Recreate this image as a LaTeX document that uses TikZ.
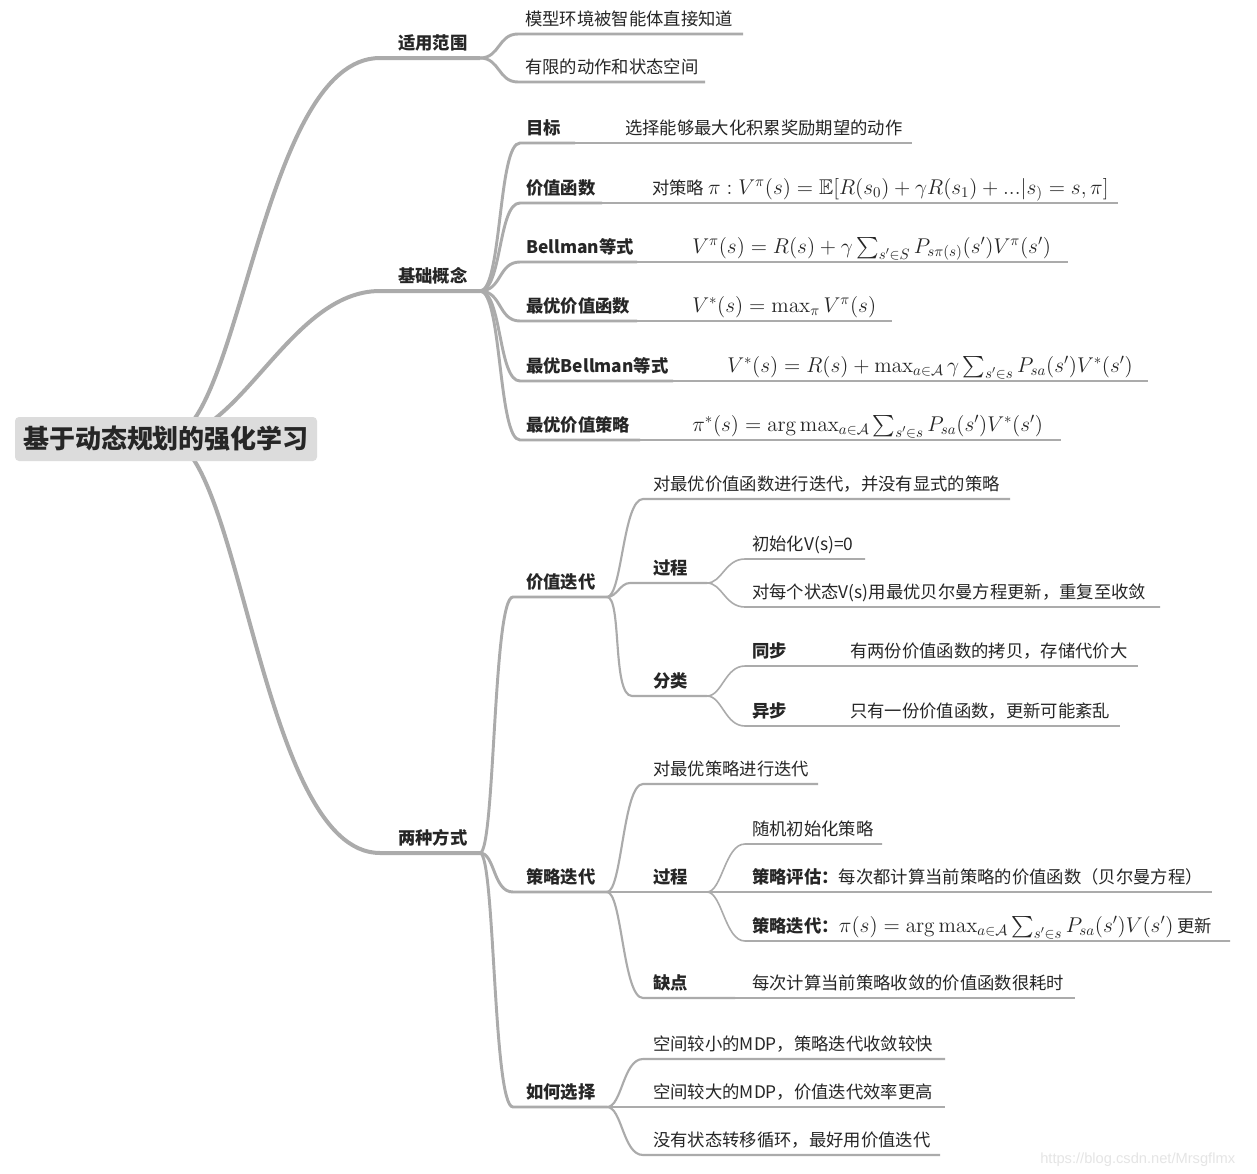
\RequirePackage{fix-cm}
\documentclass[tikz,border=0pt]{standalone}
\usepackage{amsmath,amssymb}
\usepackage[no-math]{fontspec}
\setmainfont{Noto Sans CJK SC}
\newfontfamily\markfont{Liberation Sans}
\usetikzlibrary{backgrounds}

\definecolor{ln}{HTML}{ABABAB}
\definecolor{txt}{HTML}{262626}
\definecolor{rootgray}{HTML}{DCDCDC}

% math a little larger than the text around it
\newcommand{\fml}[1]{{\fontsize{16}{18}\selectfont$#1$}}

\tikzset{
  rootbox/.style={fill=rootgray, rounded corners=3pt, minimum width=226.5pt, minimum height=33pt,
    font=\fontsize{19.5}{22}\selectfont\bfseries},
  topic/.style={anchor=base west, font=\fontsize{13}{15}\selectfont\bfseries},
  leaf/.style={anchor=base west, font=\fontsize{13}{15}\selectfont},
  br0/.style={draw=ln, line width=3pt},
  br1/.style={draw=ln, line width=2.2pt},
  br2/.style={draw=ln, line width=1.6pt},
  br3/.style={draw=ln, line width=1.2pt},
}

\begin{document}
\begin{tikzpicture}[x=0.75pt, y=-0.75pt, every node/.style={inner sep=0pt, text=txt}]
  \begin{scope}[on background layer]
    \fill[white] (0,0) rectangle (1257,1174);
  \end{scope}
  \useasboundingbox (0,0) rectangle (1257,1174);

  % root
  \node[rootbox] (root) at (166,439) {基于动态规划的强化学习};

  % first level
  \node[topic] (scope) at (398,49) {适用范围};
  \node[topic] (basic) at (398,282) {基础概念};
  \node[topic] (ways) at (398,844) {两种方式};
  \coordinate (scope-a) at (380,58);  \coordinate (scope-b) at (480,58);
  \coordinate (basic-a) at (380,291); \coordinate (basic-b) at (480,291);
  \coordinate (ways-a) at (380,853);  \coordinate (ways-b) at (480,853);

  \begin{scope}[on background layer]
    \draw[br0] (root.center) .. controls +(75,0) and +(-120,0) .. (scope-a) -- (scope-b);
    \draw[br0] (root.center) .. controls +(75,0) and +(-90,0) .. (basic-a) -- (basic-b);
    \draw[br0] (root.center) .. controls +(75,0) and +(-120,0) .. (ways-a) -- (ways-b);
  \end{scope}

  % scope
  \node[leaf] (known) at (525,25) {模型环境被智能体直接知道};
  \node[leaf] (finite) at (525,73) {有限的动作和状态空间};
  \coordinate (known-a) at (518,34);  \coordinate (known-b) at (743,34);
  \coordinate (finite-a) at (518,82); \coordinate (finite-b) at (705,82);
  \draw[br1] (scope-b) .. controls +(20,0) and +(-20,0) .. (known-a) -- (known-b);
  \draw[br1] (scope-b) .. controls +(20,0) and +(-20,0) .. (finite-a) -- (finite-b);

  % basic concepts
  \node[topic] (goal) at (526,134) {目标};
  \node[leaf] (goal-t) at (625,134) {选择能够最大化积累奖励期望的动作};
  \node[topic] (vfun) at (526,194) {价值函数};
  \node[leaf] (vfun-t) at (652,194)
    {对策略 \fml{\pi:V^\pi(s)=\mathbb{E}[R(s_0)+\gamma R(s_1)+...|s_{)}=s,\pi]}};
  \node[topic] (bell) at (526,253) {Bellman等式};
  \node[leaf] (bell-t) at (692,253)
    {\fml{V^\pi(s)=R(s)+\gamma\sum_{s'\in S}P_{s\pi(s)}(s')V^\pi(s')}};
  \node[topic] (opt) at (526,312) {最优价值函数};
  \node[leaf] (opt-t) at (692,312) {\fml{V^*(s)=\max_\pi V^\pi(s)}};
  \node[topic] (obell) at (526,372) {最优Bellman等式};
  \node[leaf] (obell-t) at (727,372)
    {\fml{V^*(s)=R(s)+\max_{a\in\mathcal{A}}\gamma\sum_{s'\in s}P_{sa}(s')V^*(s')}};
  \node[topic] (opol) at (526,431) {最优价值策略};
  \node[leaf] (opol-t) at (692,431)
    {\fml{\pi^*(s)=\arg\max_{a\in\mathcal{A}}\sum_{s'\in s}P_{sa}(s')V^*(s')}};

  \coordinate (goal-a) at (520,143);  \coordinate (goal-m) at (575,143);  \coordinate (goal-b) at (912,143);
  \coordinate (vfun-a) at (520,203);  \coordinate (vfun-m) at (602,203);  \coordinate (vfun-b) at (1118,203);
  \coordinate (bell-a) at (520,262);  \coordinate (bell-m) at (637,262);  \coordinate (bell-b) at (1068,262);
  \coordinate (opt-a) at (520,321);   \coordinate (opt-m) at (637,321);   \coordinate (opt-b) at (892,321);
  \coordinate (obell-a) at (520,381); \coordinate (obell-m) at (673,381); \coordinate (obell-b) at (1148,381);
  \coordinate (opol-a) at (520,440);  \coordinate (opol-m) at (640,440);  \coordinate (opol-b) at (1061,440);

  \foreach \n in {goal,vfun,bell,opt,obell,opol}{
    \draw[br1] (basic-b) .. controls +(22,0) and +(-22,0) .. (\n-a) -- (\n-m);
    \draw[br2] (\n-m) -- (\n-b);
  }

  % two ways
  \node[topic] (vi) at (526,588) {价值迭代};
  \node[topic] (pi) at (526,883) {策略迭代};
  \node[topic] (how) at (526,1098) {如何选择};
  \coordinate (vi-a) at (513,597);   \coordinate (vi-b) at (607,597);
  \coordinate (pi-a) at (513,892);   \coordinate (pi-b) at (607,892);
  \coordinate (how-a) at (513,1107); \coordinate (how-b) at (607,1107);
  \draw[br1] (ways-b) .. controls +(15,0) and +(-20,0) .. (vi-a) -- (vi-b);
  \draw[br1] (ways-b) .. controls +(15,0) and +(-20,0) .. (pi-a) -- (pi-b);
  \draw[br1] (ways-b) .. controls +(15,0) and +(-20,0) .. (how-a) -- (how-b);

  % value iteration
  \node[leaf] (vi-def) at (653,490) {对最优价值函数进行迭代，并没有显式的策略};
  \node[topic] (vi-proc) at (653,574) {过程};
  \node[leaf] (vi-init) at (752,550) {初始化V(s)=0};
  \node[leaf] (vi-upd) at (752,598) {对每个状态V(s)用最优贝尔曼方程更新，重复至收敛};
  \node[topic] (vi-kind) at (653,687) {分类};
  \node[topic] (sync) at (752,657) {同步};
  \node[leaf] (sync-t) at (850,657) {有两份价值函数的拷贝，存储代价大};
  \node[topic] (async) at (752,717) {异步};
  \node[leaf] (async-t) at (850,717) {只有一份价值函数，更新可能紊乱};

  \coordinate (vi-def-a) at (643,499);  \coordinate (vi-def-b) at (1010,499);
  \coordinate (vi-proc-a) at (630,583); \coordinate (vi-proc-b) at (707,583);
  \coordinate (vi-init-a) at (745,559); \coordinate (vi-init-b) at (865,559);
  \coordinate (vi-upd-a) at (745,607);  \coordinate (vi-upd-b) at (1160,607);
  \coordinate (vi-kind-a) at (632,696); \coordinate (vi-kind-b) at (707,696);
  \coordinate (sync-a) at (745,666);  \coordinate (sync-m) at (800,666);  \coordinate (sync-b) at (1138,666);
  \coordinate (async-a) at (745,726); \coordinate (async-m) at (800,726); \coordinate (async-b) at (1120,726);

  \draw[br2] (vi-b) .. controls +(15,0) and +(-20,0) .. (vi-def-a) -- (vi-def-b);
  \draw[br2] (vi-b) .. controls +(10,0) and +(-10,0) .. (vi-proc-a) -- (vi-proc-b);
  \draw[br2] (vi-b) .. controls +(15,0) and +(-20,0) .. (vi-kind-a) -- (vi-kind-b);
  \draw[br3] (vi-proc-b) .. controls +(15,0) and +(-20,0) .. (vi-init-a) -- (vi-init-b);
  \draw[br3] (vi-proc-b) .. controls +(15,0) and +(-20,0) .. (vi-upd-a) -- (vi-upd-b);
  \draw[br3] (vi-kind-b) .. controls +(15,0) and +(-20,0) .. (sync-a) -- (sync-m);
  \draw[br3] (vi-kind-b) .. controls +(15,0) and +(-20,0) .. (async-a) -- (async-m);
  \draw[br3] (sync-m) -- (sync-b);
  \draw[br3] (async-m) -- (async-b);

  % policy iteration
  \node[leaf] (pi-def) at (653,775) {对最优策略进行迭代};
  \node[topic] (pi-proc) at (653,883) {过程};
  \node[leaf] (pi-rand) at (752,835) {随机初始化策略};
  \node[leaf] (pi-eval) at (752,883) {\textbf{策略评估：}每次都计算当前策略的价值函数（贝尔曼方程）};
  \node[leaf] (pi-impr) at (752,932)
    {\textbf{策略迭代：}\fml{\pi(s)=\arg\max_{a\in\mathcal{A}}\sum_{s'\in s}P_{sa}(s')V(s')} 更新};
  \node[topic] (pi-cons) at (653,989) {缺点};
  \node[leaf] (pi-cons-t) at (752,989) {每次计算当前策略收敛的价值函数很耗时};

  \coordinate (pi-def-a) at (643,784);  \coordinate (pi-def-b) at (818,784);
  \coordinate (pi-proc-a) at (625,892); \coordinate (pi-proc-b) at (707,892);
  \coordinate (pi-rand-a) at (745,844); \coordinate (pi-rand-b) at (882,844);
  \coordinate (pi-eval-a) at (725,892); \coordinate (pi-eval-b) at (1212,892);
  \coordinate (pi-impr-a) at (745,941); \coordinate (pi-impr-b) at (1230,941);
  \coordinate (pi-cons-a) at (643,998); \coordinate (pi-cons-m) at (735,998); \coordinate (pi-cons-b) at (1075,998);

  \draw[br2] (pi-b) .. controls +(15,0) and +(-20,0) .. (pi-def-a) -- (pi-def-b);
  \draw[br2] (pi-b) -- (pi-proc-a) -- (pi-proc-b);
  \draw[br2] (pi-b) .. controls +(15,0) and +(-20,0) .. (pi-cons-a) -- (pi-cons-m);
  \draw[br3] (pi-cons-m) -- (pi-cons-b);
  \draw[br3] (pi-proc-b) .. controls +(15,0) and +(-20,0) .. (pi-rand-a) -- (pi-rand-b);
  \draw[br3] (pi-proc-b) -- (pi-eval-a) -- (pi-eval-b);
  \draw[br3] (pi-proc-b) .. controls +(15,0) and +(-20,0) .. (pi-impr-a) -- (pi-impr-b);

  % how to choose
  \node[leaf] (small) at (653,1050) {空间较小的MDP，策略迭代收敛较快};
  \node[leaf] (large) at (653,1098) {空间较大的MDP，价值迭代效率更高};
  \node[leaf] (noloop) at (653,1146) {没有状态转移循环，最好用价值迭代};
  \coordinate (small-a) at (643,1059);  \coordinate (small-b) at (945,1059);
  \coordinate (large-a) at (625,1107);  \coordinate (large-b) at (945,1107);
  \coordinate (noloop-a) at (643,1155); \coordinate (noloop-b) at (940,1155);
  \draw[br2] (how-b) .. controls +(15,0) and +(-20,0) .. (small-a) -- (small-b);
  \draw[br2] (how-b) -- (large-a) -- (large-b);
  \draw[br2] (how-b) .. controls +(15,0) and +(-20,0) .. (noloop-a) -- (noloop-b);

  % watermark
  \node[anchor=base west, text=black!10, font=\markfont\fontsize{11}{13}\selectfont] (mark) at (1040,1163)
    {https://blog.csdn.net/Mrsgflmx};
\end{tikzpicture}
\end{document}
